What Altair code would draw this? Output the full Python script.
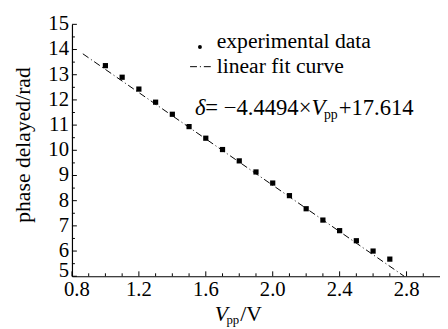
import altair as alt
import pandas as pd

FONT = "Liberation Serif"

vpp = [1.0, 1.1, 1.2, 1.3, 1.4, 1.5, 1.6, 1.7, 1.8, 1.9, 2.0, 2.1, 2.2, 2.3, 2.4, 2.5, 2.6, 2.7]
phase = [13.36, 12.90, 12.43, 11.91, 11.43, 10.94, 10.48, 10.03, 9.58, 9.14,
         8.70, 8.20, 7.68, 7.23, 6.81, 6.41, 6.00, 5.68]

# linear fit line end points (as drawn)
fit_vpp = [0.865, 2.786]
fit_phase = [13.83, 5.0]

# axis ticks and tick labels
x_major = [0.8, 1.2, 1.6, 2.0, 2.4, 2.8]
x_labels = ["0.8", "1.2", "1.6", "2.0", "2.4", "2.8"]
x_minor = [0.9, 1.0, 1.1, 1.3, 1.4, 1.5, 1.7, 1.8, 1.9, 2.1, 2.2, 2.3, 2.5, 2.6, 2.7, 2.9]
y_major = [5, 6, 7, 8, 9, 10, 11, 12, 13, 14, 15]
y_labels = ["5", "6", "7", "8", "9", "10", "11", "12", "13", "14", "15"]
y_minor = [5.5, 6.5, 7.5, 8.5, 9.5, 10.5, 11.5, 12.5, 13.5, 14.5]

# annotation anchors (data units)
legend_marker = [1.565, 14.10]
legend_line_x = [1.506, 1.647]
legend_line_y = [13.32, 13.32]
legend_text_x = 1.665
legend_text_y = [14.06, 13.05]
legend_labels = ["experimental data", "linear fit curve"]
eq_anchor = [1.535, 11.41]
xtitle_anchor = [1.653, 5.0]
ytitle_anchor = [0.506, 10.21]
ytitle_text = "phase delayed/rad"

x_scale = alt.Scale(domain=[0.8, 3.0], nice=False, zero=False)
y_scale = alt.Scale(domain=[5, 15], nice=False, zero=False)

axis_common = dict(
    ticks=False, grid=False, labels=False, domainColor="black",
    domainWidth=1.2, title=None,
)
x_axis = alt.Axis(values=x_major, **axis_common)
y_axis = alt.Axis(values=y_major, **axis_common)


def X(field):
    return alt.X(field, type="quantitative", scale=x_scale, title=None, axis=x_axis)


def Y(field):
    return alt.Y(field, type="quantitative", scale=y_scale, title=None, axis=y_axis)


df = pd.DataFrame({"vpp": vpp, "phase": phase})
points = alt.Chart(df).mark_square(size=28, color="black", opacity=1).encode(
    x=X("vpp"), y=Y("phase"))

fit = alt.Chart(pd.DataFrame({"vpp": fit_vpp, "phase": fit_phase})).mark_line(
    color="black", strokeWidth=1, strokeDash=[7, 3, 1, 3]).encode(x=X("vpp"), y=Y("phase"))


def xticks(vals, length):
    return alt.Chart(pd.DataFrame({"vpp": vals, "phase": [5] * len(vals)})).mark_rule(
        color="black", strokeWidth=1, y2Offset=-length).encode(
        x=X("vpp"), y=Y("phase"), y2="phase:Q")


def yticks(vals, length):
    return alt.Chart(pd.DataFrame({"phase": vals, "vpp": [0.8] * len(vals)})).mark_rule(
        color="black", strokeWidth=1, x2Offset=length).encode(
        y=Y("phase"), x=X("vpp"), x2="vpp:Q")


def labels(xs, ys, texts, dx=0, dy=0, size=21, align="center", baseline="top"):
    return alt.Chart(pd.DataFrame({"vpp": xs, "phase": ys, "t": texts})).mark_text(
        dx=dx, dy=dy, font=FONT, fontSize=size, fontStyle="normal", align=align,
        baseline=baseline, color="black").encode(x=X("vpp"), y=Y("phase"), text="t:N")


def txt(text, x, y, dx=0, dy=0, size=22, italic=False, align="left", baseline="alphabetic", angle=0):
    return alt.Chart(pd.DataFrame({"vpp": [x], "phase": [y]})).mark_text(
        text=text, dx=dx, dy=dy, font=FONT, fontSize=size, angle=angle,
        fontStyle="italic" if italic else "normal", align=align,
        baseline=baseline, color="black").encode(x=X("vpp"), y=Y("phase"))


# tick labels (corner ones nudged apart, as in the reference)
xlab0 = labels(x_major[:1], [5], x_labels[:1], dx=5, dy=3)
xlab = labels(x_major[1:], [5] * (len(x_major) - 1), x_labels[1:], dy=3)
ylab0 = labels([0.8], y_major[:1], y_labels[:1], dx=-3, dy=-5, align="right", baseline="middle")
ylab = labels([0.8] * (len(y_major) - 1), y_major[1:], y_labels[1:], dx=-3,
              align="right", baseline="middle")

leg_dot = alt.Chart(pd.DataFrame({"vpp": [legend_marker[0]], "phase": [legend_marker[1]]})).mark_circle(
    size=16, color="black", opacity=1).encode(x=X("vpp"), y=Y("phase"))
leg_line = alt.Chart(pd.DataFrame({"vpp": legend_line_x, "phase": legend_line_y})).mark_line(
    color="black", strokeWidth=1, strokeDash=[7, 3, 1, 3]).encode(x=X("vpp"), y=Y("phase"))
leg_t1 = txt(legend_labels[0], legend_text_x, legend_text_y[0])
leg_t2 = txt(legend_labels[1], legend_text_x, legend_text_y[1])

# equation: δ= −4.4494×V_pp+17.614
ES = 23
ex, ey = eq_anchor
w_main = 3.878 * ES
eq = [
    txt("δ", ex, ey, dx=0, size=ES, italic=True),
    txt("=", ex, ey, dx=0.46 * ES, size=ES),
    txt("−4.4494×", ex, ey, dx=1.27 * ES, size=ES),
    txt("V", ex, ey, dx=1.27 * ES + w_main, size=ES, italic=True),
    txt("pp", ex, ey, dx=1.27 * ES + w_main + 0.55 * ES, dy=4, size=14),
    txt("+17.614", ex, ey, dx=1.27 * ES + w_main + 0.55 * ES + 15, size=ES),
]

tx, ty = xtitle_anchor
xtitle = [
    txt("V", tx, ty, dx=0, dy=45, size=22, italic=True),
    txt("pp", tx, ty, dx=12, dy=49, size=13),
    txt("/V", tx, ty, dx=26, dy=45, size=22),
]
ytitle = txt(ytitle_text, ytitle_anchor[0], ytitle_anchor[1], size=22,
             align="center", baseline="middle", angle=270)

chart = alt.layer(
    points, fit,
    xticks(x_major, 5), xticks(x_minor, 3),
    yticks(y_major, 5), yticks(y_minor, 3),
    xlab0, xlab, ylab0, ylab,
    leg_dot, leg_line, leg_t1, leg_t2,
    *eq, *xtitle, ytitle,
).properties(
    width=374, height=256,
    autosize=alt.AutoSizeParams(type="none"),
    padding={"left": 65, "top": 14, "right": 0, "bottom": 51},
).configure(background="white").configure_view(stroke=None)

chart.save("out.html", embed_options={"renderer": "svg", "actions": False})
